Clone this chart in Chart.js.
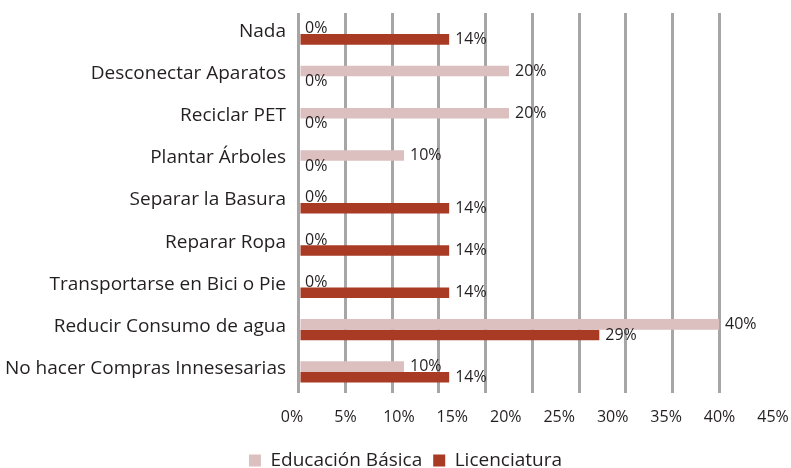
<!DOCTYPE html>
<html lang="es">
  <head>
    <meta charset="UTF-8" />
    <title>Acciones</title>
    <script src="https://cdn.jsdelivr.net/npm/chart.js"></script>
    <style>
      body { margin: 0; background: #fff; }
      #wrap { width: 791px; height: 468px; }
    </style>
  </head>
  <body>
    <div id="wrap"><canvas id="accionesChart"></canvas></div>

    <script>
      const categorias = [
        "Nada",
        "Desconectar Aparatos",
        "Reciclar PET",
        "Plantar Árboles",
        "Separar la Basura",
        "Reparar Ropa",
        "Transportarse en Bici o Pie",
        "Reducir Consumo de agua",
        "No hacer Compras Innesesarias",
      ];
      const educacionBasica = [0, 20, 20, 10, 0, 0, 0, 40, 10];
      const licenciatura = [14.3, 0, 0, 0, 14.3, 14.3, 14.3, 28.6, 14.3];
      const tickValores = [0, 5, 10, 15, 20, 25, 30, 35, 40, 45];
      const tickEtiquetas = ["0%", "5%", "10%", "15%", "20%", "25%", "30%", "35%", "40%", "45%"];
      const divisionesGrid = 9; // lineas verticales entre 0 y 40
      const maxGrid = 40;

      const fuente = "'Open Sans', sans-serif";
      const colorTexto = "#231f20";

      // etiquetas de valor al final de cada barra
      const etiquetasValor = {
        id: "etiquetasValor",
        afterDatasetsDraw(chart) {
          const ctx = chart.ctx;
          ctx.save();
          ctx.font = "16px " + fuente;
          ctx.fillStyle = colorTexto;
          ctx.textAlign = "left";
          ctx.textBaseline = "middle";
          chart.data.datasets.forEach((ds, i) => {
            chart.getDatasetMeta(i).data.forEach((bar, j) => {
              ctx.fillText(Math.round(ds.data[j]) + "%", bar.x + 6, bar.y);
            });
          });
          ctx.restore();
        },
      };

      // la leyenda esta un poco a la derecha del centro
      const moverLeyenda = {
        id: "moverLeyenda",
        afterLayout(chart) {
          chart.legend.left += 10;
          chart.legend.right += 10;
        },
      };

      new Chart(document.getElementById("accionesChart"), {
        type: "bar",
        data: {
          labels: categorias,
          datasets: [
            {
              label: "Educación Básica",
              data: educacionBasica,
              backgroundColor: "#dcc0c0",
              borderWidth: 0,
            },
            {
              label: "Licenciatura",
              data: licenciatura,
              backgroundColor: "#a93a24",
              borderWidth: 0,
            },
          ],
        },
        options: {
          indexAxis: "y",
          responsive: true,
          maintainAspectRatio: false,
          animation: false,
          layout: { padding: { top: 13, right: 0, left: 0, bottom: -12 } },
          datasets: { bar: { categoryPercentage: 0.5, barPercentage: 1 } },
          scales: {
            x: {
              type: "linear",
              position: "bottom",
              min: -0.857,
              max: 46.857,
              afterBuildTicks: (scale) => {
                const t = [];
                for (let i = 0; i <= divisionesGrid; i++) t.push({ value: (maxGrid * i) / divisionesGrid });
                scale.ticks = t;
              },
              afterFit: (scale) => {
                scale.height = 0;
                scale.paddingLeft = 0;
                scale.paddingRight = 0;
              },
              ticks: { display: false },
              grid: { color: "#a6a6a6", lineWidth: 3, drawTicks: false },
              border: { display: false },
            },
            x2: {
              type: "linear",
              position: "bottom",
              min: -0.187,
              max: 46.683,
              afterBuildTicks: (scale) => {
                scale.ticks = tickValores.map((v) => ({ value: v }));
              },
              afterFit: (scale) => {
                scale.height = 47;
                scale.paddingLeft = 0;
                scale.paddingRight = 0;
              },
              ticks: {
                padding: 15,
                color: colorTexto,
                font: { family: fuente, size: 16 },
                maxRotation: 0,
                autoSkip: false,
                callback: (v, i) => tickEtiquetas[i],
              },
              grid: { display: false, drawTicks: false },
              border: { display: false },
            },
            y: {
              afterFit: (scale) => {
                scale.width = 290;
                scale.paddingTop = 0;
                scale.paddingBottom = 0;
              },
              ticks: {
                color: colorTexto,
                font: { family: fuente, size: 19 },
                padding: 4,
                labelOffset: -3,
              },
              grid: { display: false, drawTicks: false },
              border: { display: false },
            },
          },
          plugins: {
            legend: {
              position: "bottom",
              labels: {
                color: colorTexto,
                font: { family: fuente, size: 19 },
                boxWidth: 12,
                boxHeight: 12,
                padding: 11,
              },
            },
            tooltip: { enabled: false },
          },
        },
        plugins: [etiquetasValor, moverLeyenda],
      });
    </script>
  </body>
</html>
